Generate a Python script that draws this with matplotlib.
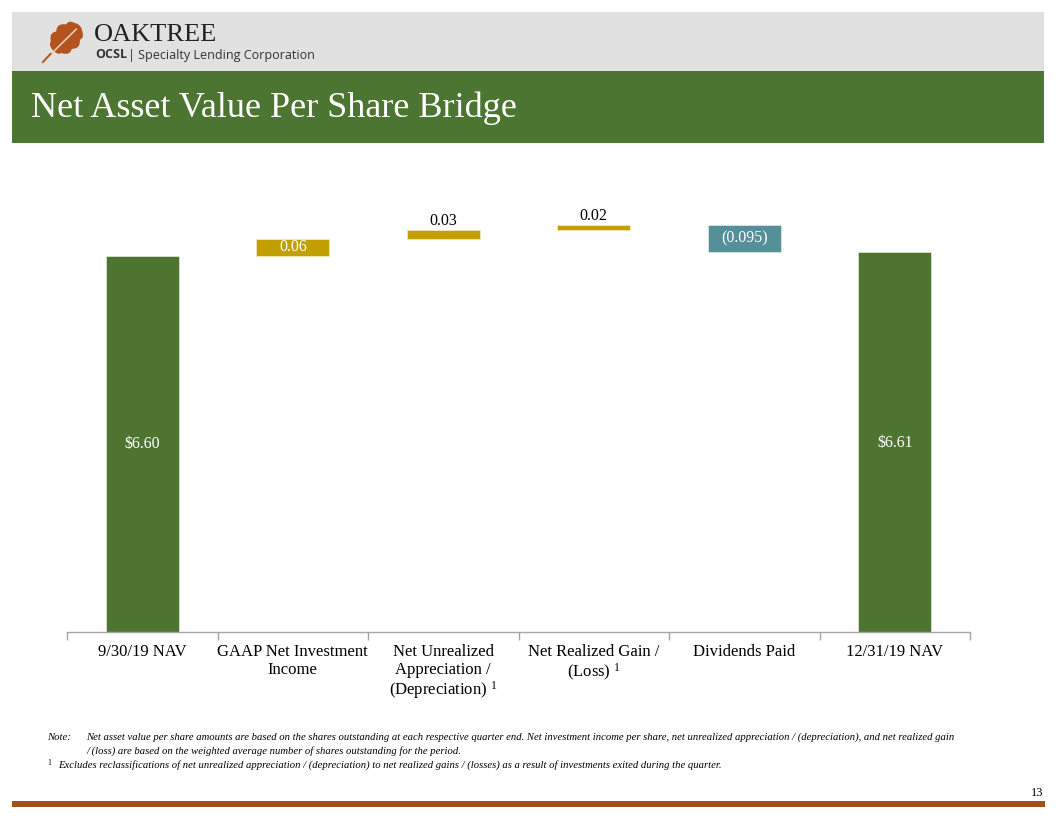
import numpy as np
import matplotlib
matplotlib.use("Agg")
import matplotlib.pyplot as plt
from matplotlib.patches import Rectangle, Polygon

plt.rcParams['font.family'] = ['Liberation Serif', 'DejaVu Serif']
plt.rcParams['mathtext.fontset'] = 'custom'
plt.rcParams['mathtext.rm'] = 'Liberation Serif'
plt.rcParams['mathtext.it'] = 'Liberation Serif:italic'

# ---- data ----
categories = ["9/30/19 NAV", "GAAP Net Investment\nIncome",
              "Net Unrealized\nAppreciation /\n(Depreciation) $^{1}$",
              "Net Realized Gain /\n(Loss) $^{1}$", "Dividends Paid", "12/31/19 NAV"]
start_nav = 6.60
changes = [0.06, 0.03, 0.02, -0.095]
end_nav = 6.61
labels = ["$6.60", "0.06", "0.03", "0.02", "(0.095)", "$6.61"]

GREEN = "#4E7530"
GOLD = "#C1A000"
TEAL = "#558F98"

W, H = 1056, 816
fig = plt.figure(figsize=(W / 100, H / 100), dpi=100)

def fx(px):
    return px / W

def fy(py):
    return 1 - py / H

# ---- header ----
fig.patches.append(Rectangle((fx(12), fy(71)), fx(1044) - fx(12), fy(12) - fy(71),
                             transform=fig.transFigure, facecolor="#E1E1E1", edgecolor="none"))
fig.patches.append(Rectangle((fx(12), fy(143)), fx(1044) - fx(12), fy(71) - fy(143),
                             transform=fig.transFigure, facecolor="#4B7530", edgecolor="none"))
fig.text(fx(31), fy(108), "Net Asset Value Per Share Bridge", color="white",
         fontsize=26, va="center", ha="left")
fig.text(fx(94), fy(35), "OAKTREE", color="#222222", fontsize=19,
         va="center", ha="left")
fig.text(fx(95), fy(55), "OCSL", color="#333333", fontsize=9, fontweight="bold",
         va="center", ha="left", family="Open Sans")
fig.text(fx(128), fy(55), "| Specialty Lending Corporation", color="#333333", fontsize=9,
         va="center", ha="left", family="Open Sans")

# leaf logo (decorative)
lax = fig.add_axes([fx(40), fy(64), fx(48), fy(16) - fy(64)], zorder=5)
lax.set_xlim(-1.25, 1.25)
lax.set_ylim(-1.25, 1.25)
lax.axis("off")
t = np.linspace(0, 2 * np.pi, 600)
lobe = 1 + 0.22 * np.abs(np.cos(4.5 * t))
rx = 0.95 * np.cos(t)
ry = 0.62 * np.sin(t) * lobe
ang = np.deg2rad(42)
px_ = rx * np.cos(ang) - ry * np.sin(ang) + 0.12
py_ = rx * np.sin(ang) + ry * np.cos(ang) + 0.1
lax.add_patch(Polygon(np.column_stack([px_, py_]), closed=True, facecolor="#B5531E", edgecolor="none"))
lax.plot([-1.0, 0.12 + 0.7 * np.cos(ang)], [-1.05, 0.1 + 0.7 * np.sin(ang)], color="#EBD3C3", lw=1.1)
lax.plot([-1.1, -0.7], [-1.15, -0.72], color="#B5531E", lw=1.4)

# ---- chart ----
k = 284.0
ymin = 6.60 - 376 / k
ax_top_px = 160
ax = fig.add_axes([fx(67), fy(632), fx(970) - fx(67), fy(ax_top_px) - fy(632)])
ax.set_xlim(-0.5, 5.5)
ax.set_ylim(ymin, ymin + (632 - ax_top_px) / k)

bw = 0.485
x = np.arange(len(categories))
lfs = 11.5
# start bar
ax.bar(x[0], start_nav - ymin, bottom=ymin, width=bw, color=GREEN, edgecolor="#E6EEDC", linewidth=0.5)
ax.text(x[0], (start_nav + ymin) / 2, labels[0], ha="center", va="center", color="white", fontsize=lfs)
run = start_nav
for i, c in enumerate(changes):
    xi = x[i + 1]
    lo, hi = (run, run + c) if c >= 0 else (run + c, run)
    col = GOLD if c >= 0 else TEAL
    ax.bar(xi, hi - lo, bottom=lo, width=bw, color=col, edgecolor="#F3EDC8" if c >= 0 else "#E0ECEE", linewidth=0.5)
    if hi - lo >= 0.05:
        ax.text(xi, (lo + hi) / 2, labels[i + 1], ha="center", va="center", color="white", fontsize=lfs)
    else:
        ax.text(xi, hi + 0.004, labels[i + 1], ha="center", va="bottom", color="black", fontsize=lfs)
    run += c
ax.bar(x[5], end_nav - ymin + 0.005, bottom=ymin, width=bw, color=GREEN, edgecolor="#E6EEDC", linewidth=0.5)
ax.text(x[5], (end_nav + ymin) / 2, labels[5], ha="center", va="center", color="white", fontsize=lfs)

for s in ["top", "right", "left"]:
    ax.spines[s].set_visible(False)
ax.spines["bottom"].set_color("#A6A6A6")
ax.spines["bottom"].set_linewidth(1.0)
ax.set_yticks([])
ax.set_xticks(x)
ax.set_xticklabels(categories, fontsize=12, linespacing=1.1, va="top")
ax.tick_params(axis="x", which="major", length=0, pad=9)
ax.set_xticks(np.arange(-0.5, 6.0, 1.0), minor=True)
ax.tick_params(axis="x", which="minor", length=6, color="#A6A6A6", width=1.0)

# ---- notes ----
nfs = 7.65
fig.text(fx(47), fy(737), "Note:", fontsize=nfs, style="italic", va="center", ha="left")
fig.text(fx(86), fy(737),
         "Net asset value per share amounts are based on the shares outstanding at each respective quarter end. "
         "Net investment income per share, net unrealized appreciation / (depreciation), and net realized gain",
         fontsize=nfs, style="italic", va="center", ha="left")
fig.text(fx(86), fy(751), "/ (loss) are based on the weighted average number of shares outstanding for the period.",
         fontsize=nfs, style="italic", va="center", ha="left")
fig.text(fx(47), fy(763), "1", fontsize=5.5, va="center", ha="left")
fig.text(fx(58), fy(765),
         "Excludes reclassifications of net unrealized appreciation / (depreciation) to net realized gains / (losses) "
         "as a result of investments exited during the quarter.",
         fontsize=nfs, style="italic", va="center", ha="left")

# ---- footer ----
fig.patches.append(Rectangle((fx(12), fy(807)), fx(1045) - fx(12), fy(801) - fy(807),
                             transform=fig.transFigure, facecolor="#A14F1E", edgecolor="none"))
fig.text(fx(1043), fy(793), "13", fontsize=9, ha="right", va="center", family="Liberation Serif")

fig.savefig("out.png", dpi=100, facecolor="white")
